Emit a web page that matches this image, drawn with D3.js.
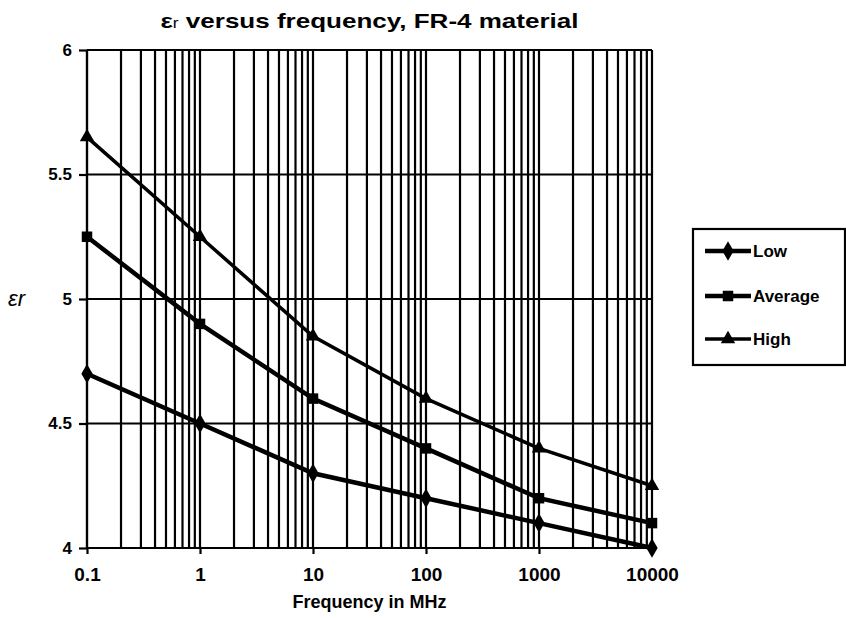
<!DOCTYPE html>
<html>
<head>
<meta charset="utf-8">
<script src="https://cdn.jsdelivr.net/npm/d3@7"></script>
<style>
  body { margin: 0; background: #fff; }
  text { font-family: "Liberation Sans", Arial, sans-serif; font-weight: bold; fill: #000; }
</style>
</head>
<body>
<div id="chart"></div>
<script>
var width = 846;
var height = 618;

// data
var freqs = [0.1, 1, 10, 100, 1000, 10000];
var freqLabels = ["0.1", "1", "10", "100", "1000", "10000"];
var erTicks = [4, 4.5, 5, 5.5, 6];
var erLabels = ["4", "4.5", "5", "5.5", "6"];
var seriesNames = ["Low", "Average", "High"];
var lowVals = [4.7, 4.5, 4.3, 4.2, 4.1, 4.0];
var avgVals = [5.25, 4.9, 4.6, 4.4, 4.2, 4.1];
var highVals = [5.65, 5.25, 4.85, 4.6, 4.4, 4.25];

var series = [
  { name: seriesNames[0], values: lowVals, symbol: d3.symbolDiamond, size: 110, lw: 4.5 },
  { name: seriesNames[1], values: avgVals, symbol: d3.symbolSquare, size: 110, lw: 4.5 },
  { name: seriesNames[2], values: highVals, symbol: d3.symbolTriangle, size: 90, lw: 3.5 }
];

// plot box (note: "top" is taken by window.top, so use other names)
var plotLeft = 87, plotRight = 652, plotTop = 50, plotBottom = 548;

var xScale = d3.scaleLog().domain([0.1, 10000]).range([plotLeft, plotRight]);
var yScale = d3.scaleLinear().domain([4, 6]).range([plotBottom, plotTop]);

var svg = d3.select("#chart").append("svg")
  .attr("width", width)
  .attr("height", height);

// minor log grid: 1..9 in each decade
var gridVals = [];
freqs.forEach(function(f, i) {
  if (i == freqs.length - 1) { gridVals.push(f); return; }
  for (var m = 1; m < 10; m++) gridVals.push(+(f * m).toPrecision(3));
});

svg.append("g")
  .selectAll("line")
  .data(gridVals)
  .enter().append("line")
  .attr("x1", function(d) { return xScale(d); })
  .attr("x2", function(d) { return xScale(d); })
  .attr("y1", plotTop)
  .attr("y2", plotBottom)
  .attr("stroke", "#000")
  .attr("stroke-width", 2.2);

svg.append("g")
  .selectAll("line")
  .data(erTicks)
  .enter().append("line")
  .attr("x1", plotLeft)
  .attr("x2", plotRight)
  .attr("y1", function(d) { return yScale(d); })
  .attr("y2", function(d) { return yScale(d); })
  .attr("stroke", "#000")
  .attr("stroke-width", 2.2);

// axes
var xAxis = d3.axisBottom(xScale)
  .tickValues(freqs)
  .tickFormat(function(d, i) { return freqLabels[i]; })
  .tickSize(6)
  .tickPadding(14);
var gx = svg.append("g")
  .attr("transform", "translate(0," + plotBottom + ")")
  .call(xAxis);
gx.select(".domain").attr("stroke-width", 2.2).attr("d", "M" + plotLeft + ",0H" + plotRight);
gx.selectAll(".tick line").attr("stroke-width", 2.2);
gx.selectAll(".tick text").style("font-size", "19px");

var yAxis = d3.axisLeft(yScale)
  .tickValues(erTicks)
  .tickFormat(function(d, i) { return erLabels[i]; })
  .tickSize(8)
  .tickPadding(7);
var gy = svg.append("g")
  .attr("transform", "translate(" + plotLeft + ",0)")
  .call(yAxis);
gy.select(".domain").attr("stroke-width", 2.2).attr("d", "M0," + plotTop + "V" + plotBottom);
gy.selectAll(".tick line").attr("stroke-width", 2.2);
gy.selectAll(".tick text").style("font-size", "17px");

// lines + markers
var line = d3.line()
  .x(function(d, i) { return xScale(freqs[i]); })
  .y(function(d) { return yScale(d); });

series.forEach(function(s) {
  svg.append("path")
    .datum(s.values)
    .attr("d", line)
    .attr("fill", "none")
    .attr("stroke", "#000")
    .attr("stroke-width", s.lw);
  svg.append("g").selectAll("path")
    .data(s.values)
    .enter().append("path")
    .attr("transform", function(d, i) { return "translate(" + xScale(freqs[i]) + "," + yScale(d) + ")"; })
    .attr("d", d3.symbol().type(s.symbol).size(s.size))
    .attr("fill", "#000");
});

// title
var title = svg.append("text")
  .attr("x", (plotLeft + plotRight) / 2)
  .attr("y", 28)
  .attr("text-anchor", "middle")
  .style("font-size", "21px")
  .attr("textLength", 418)
  .attr("lengthAdjust", "spacingAndGlyphs");
title.append("tspan").text("ε");
title.append("tspan").style("font-size", "14px").style("font-weight", "normal").text("r");
title.append("tspan").text(" versus frequency,  FR-4 material");

// axis titles
svg.append("text")
  .attr("x", (plotLeft + plotRight) / 2)
  .attr("y", 608)
  .attr("text-anchor", "middle")
  .style("font-size", "18px")
  .text("Frequency in MHz");

var ylab = svg.append("text")
  .attr("x", 8)
  .attr("y", 306)
  .style("font-size", "22px")
  .style("font-weight", "normal")
  .style("font-style", "italic");
ylab.append("tspan").text("ε");
ylab.append("tspan").text("r");

// legend
var legend = svg.append("g");
legend.append("rect")
  .attr("x", 693)
  .attr("y", 229)
  .attr("width", 152)
  .attr("height", 136)
  .attr("fill", "#fff")
  .attr("stroke", "#000")
  .attr("stroke-width", 2.2);

var legY = [251, 296, 339];
series.forEach(function(s, i) {
  var g = legend.append("g").attr("transform", "translate(0," + legY[i] + ")");
  g.append("line")
    .attr("x1", 705).attr("x2", 751)
    .attr("y1", 0).attr("y2", 0)
    .attr("stroke", "#000")
    .attr("stroke-width", s.lw);
  g.append("path")
    .attr("transform", "translate(728,0)")
    .attr("d", d3.symbol().type(s.symbol).size(s.size))
    .attr("fill", "#000");
  g.append("text")
    .attr("x", 753)
    .attr("y", 6)
    .style("font-size", "17px")
    .text(s.name);
});
</script>
</body>
</html>
